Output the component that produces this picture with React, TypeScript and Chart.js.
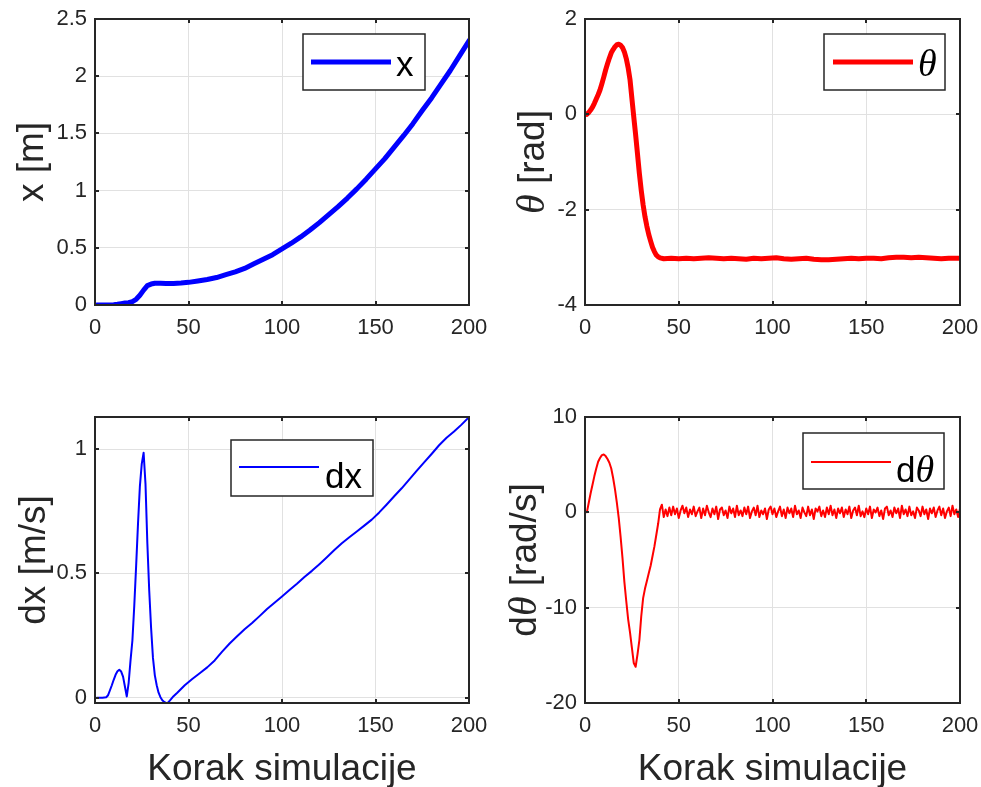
import React, { useEffect, useRef } from "react";
import { Chart, registerables } from "chart.js";

Chart.register(...registerables);

// ---------------- data ----------------
const STEP_TICKS = [0, 50, 100, 150, 200];

// x [m]
const POS_STEPS = [1, 5, 8, 10, 12, 14, 16, 18, 20, 22, 24, 26, 28, 30, 32, 35, 38, 42, 46, 50, 55, 60, 65, 70, 75, 80, 85, 90, 95, 100, 105, 110, 115, 120, 125, 130, 135, 140, 145, 150, 155, 160, 165, 170, 175, 180, 185, 190, 195, 200];
const POS_VALUES = [0, 0, 0.001, 0.003, 0.007, 0.012, 0.017, 0.02, 0.03, 0.05, 0.085, 0.13, 0.17, 0.183, 0.19, 0.19, 0.189, 0.189, 0.192, 0.198, 0.21, 0.223, 0.24, 0.265, 0.29, 0.32, 0.36, 0.4, 0.44, 0.49, 0.54, 0.595, 0.655, 0.72, 0.79, 0.86, 0.935, 1.015, 1.1, 1.19, 1.28, 1.38, 1.48, 1.585, 1.7, 1.81, 1.93, 2.05, 2.18, 2.31];
const POS_TICKS = [0, 0.5, 1, 1.5, 2, 2.5];

// theta [rad]
const THETA_STEPS = [
  1, 2, 3, 4, 5, 6, 7, 8, 9, 10,
  11, 12, 13, 14, 15, 16, 17, 18, 19, 20,
  21, 22, 23, 24, 25, 26, 27, 28, 29, 30,
  31, 32, 33, 34, 35, 36, 37, 38, 39, 40,
  42, 46, 50, 54, 58, 62, 66, 70, 74, 78,
  82, 86, 90, 94, 98, 102, 106, 110, 114, 118,
  122, 126, 130, 134, 138, 142, 146, 150, 154, 158,
  162, 166, 170, 174, 178, 182, 186, 190, 194, 198, 200,
];
const THETA_VALUES = [
  0.0, 0.04, 0.09, 0.15, 0.23, 0.32, 0.41, 0.51, 0.64, 0.78,
  0.93, 1.06, 1.18, 1.29, 1.36, 1.42, 1.46, 1.47, 1.45, 1.4,
  1.31, 1.17, 0.98, 0.73, 0.34, -0.05, -0.43, -0.83, -1.24, -1.6,
  -1.9, -2.15, -2.35, -2.52, -2.66, -2.79, -2.88, -2.95, -2.99, -3.01,
  -3.03, -3.02, -3.03, -3.02, -3.03, -3.02, -3.01, -3.02, -3.03, -3.02,
  -3.03, -3.04, -3.02, -3.03, -3.02, -3.01, -3.03, -3.04, -3.03, -3.02,
  -3.04, -3.05, -3.05, -3.04, -3.03, -3.02, -3.03, -3.02, -3.02, -3.03,
  -3.01, -3.0, -3.0, -3.01, -3.0, -3.01, -3.02, -3.03, -3.02, -3.02, -3.02,
];
const THETA_TICKS = [-4, -2, 0, 2];

// dx [m/s]
const VEL_STEPS = [
  1, 4, 6, 7, 8, 9, 10, 11, 12, 13,
  14, 15, 16, 17, 18, 19, 20, 21, 22, 23,
  24, 25, 26, 27, 28, 29, 30, 31, 32, 33,
  34, 35, 36, 37, 38, 39, 40, 41, 42,
  44, 48, 52, 56, 60, 64, 68, 72, 76, 80,
  84, 88, 92, 96, 100, 104, 108, 112, 116, 120,
  124, 128, 132, 136, 140, 144, 148, 152, 156, 160,
  164, 168, 172, 176, 180, 184, 188, 192, 196, 200,
];
const VEL_VALUES = [
  0, 0, 0.002, 0.01, 0.03, 0.05, 0.072, 0.092, 0.106, 0.112,
  0.105, 0.085, 0.045, 0.005, 0.06, 0.15, 0.23, 0.37, 0.53, 0.7,
  0.85, 0.94, 0.985, 0.86, 0.62, 0.43, 0.28, 0.16, 0.09, 0.05,
  0.02, 0.002, -0.01, -0.017, -0.021, -0.02, -0.012, -0.003, 0.006,
  0.02, 0.05, 0.075, 0.098, 0.122, 0.15, 0.185, 0.218, 0.247, 0.275,
  0.3, 0.328, 0.357, 0.382, 0.407, 0.433, 0.458, 0.485, 0.51, 0.537,
  0.565, 0.594, 0.621, 0.645, 0.668, 0.692, 0.716, 0.745, 0.777, 0.81,
  0.842, 0.877, 0.912, 0.946, 0.98, 1.015, 1.045, 1.07, 1.098, 1.128,
];
const VEL_TICKS = [0, 0.5, 1];

// dtheta [rad/s], one value per simulation step 1..200
const OMEGA_VALUES = [
  0.0, 1.0, 2.0, 2.9, 3.8, 4.6, 5.3, 5.7, 6.0, 6.07,
  5.9, 5.6, 5.2, 4.6, 3.6, 2.4, 1.0, -0.6, -2.6, -4.8,
  -7.3, -9.3, -11.2, -12.6, -14.2, -15.8, -16.2, -14.9, -13.4, -10.9,
  -9.0, -8.0, -7.2, -6.4, -5.6, -4.6, -3.6, -2.4, -1.2, 0.3,
  0.8, -0.5, 0.3, -0.4, 0.5, -0.3, 0.6, -0.2, 0.4, -0.6,
  0.2, 0.7, -0.1, 0.5, -0.5, 0.3, -0.2, 0.6, -0.4, 0.1,
  0.5, -0.6, 0.4, -0.3, 0.7, 0.0, -0.5, 0.4, -0.2, 0.6,
  -0.7, 0.3, 0.5, -0.3, 0.2, -0.6, 0.6, -0.1, 0.4, -0.5,
  0.7, -0.3, 0.2, -0.4, 0.5, -0.2, 0.6, -0.6, 0.1, 0.5,
  -0.3, 0.7, -0.5, 0.2, -0.2, 0.4, -0.7, 0.3, 0.6, -0.2,
  0.4, -0.5, 0.1, 0.6, -0.4, 0.3, -0.6, 0.5, -0.1, 0.4,
  -0.5, 0.7, -0.2, 0.2, -0.6, 0.5, 0.0, -0.4, 0.6, -0.3,
  0.3, -0.7, 0.4, 0.1, 0.6, -0.4, 0.2, -0.5, 0.5, -0.2,
  0.7, -0.3, 0.3, -0.6, 0.4, -0.1, 0.5, -0.5, 0.3, -0.2,
  0.6, -0.6, 0.2, 0.5, -0.3, 0.7, -0.4, 0.1, -0.5, 0.4,
  -0.2, 0.6, -0.6, 0.3, 0.0, 0.5, -0.4, 0.2, -0.7, 0.4,
  0.6, -0.3, 0.2, -0.5, 0.5, -0.1, 0.4, -0.6, 0.7, -0.2,
  0.3, -0.4, 0.6, -0.3, 0.1, -0.6, 0.5, 0.2, -0.4, 0.6,
  -0.2, 0.3, -0.7, 0.4, -0.1, 0.5, -0.5, 0.2, 0.6, -0.3,
  0.4, -0.6, 0.1, 0.5, -0.4, 0.7, -0.2, 0.3, -0.5, 0.4,
];
const OMEGA_STEPS = OMEGA_VALUES.map((_, i) => i + 1);
const OMEGA_TICKS = [-20, -10, 0, 10];

const X_LABEL = "Korak simulacije";

// ---------------- style ----------------
const AXIS_COLOR = "#262626";
const GRID_COLOR = "#e1e1e1";
const SANS = '"Liberation Sans", Arial, Helvetica, sans-serif';
const SERIF = '"Liberation Serif", "Times New Roman", serif';
const TICK_FONT_SIZE = 22;
const LABEL_FONT_SIZE = 37;
const LEGEND_FONT_SIZE = 35;
const ITALIC_SCALE = 1.08;
const TICK_LEN = 4;

type Seg = { t: string; italic?: boolean };

type PanelSpec = {
  canvas: { left: number; top: number; width: number; height: number };
  area: { left: number; top: number; right: number; bottom: number };
  steps: number[];
  values: number[];
  color: string;
  lineWidth: number;
  yMin: number;
  yMax: number;
  yTicks: number[];
  yTitle: Seg[];
  yTitleX: number;
  xTitle: boolean;
  legend: Seg[];
  legendBox: { x: number; y: number; w: number; h: number };
  legendLine: { x0: number; x1: number; y: number };
  legendText: { x: number; y: number };
};

function segFont(s: Seg, size: number) {
  return s.italic ? `italic ${Math.round(size * ITALIC_SCALE)}px ${SERIF}` : `${size}px ${SANS}`;
}

function drawSegs(ctx: CanvasRenderingContext2D, segs: Seg[], size: number, x: number, y: number, center: boolean) {
  const widths = segs.map((s) => {
    ctx.font = segFont(s, size);
    return ctx.measureText(s.t).width;
  });
  const total = widths.reduce((a, b) => a + b, 0);
  let cx = center ? x - total / 2 : x;
  segs.forEach((s, i) => {
    ctx.font = segFont(s, size);
    ctx.fillText(s.t, cx, y);
    cx += widths[i];
  });
}

function makePlugin(p: PanelSpec) {
  const ox = p.canvas.left;
  const oy = p.canvas.top;
  return {
    id: "matlabFrame",
    afterDatasetsDraw(chart: any) {
      const { ctx, chartArea: a, scales } = chart;
      ctx.save();
      ctx.strokeStyle = AXIS_COLOR;
      ctx.lineWidth = 2;
      ctx.beginPath();
      STEP_TICKS.forEach((v) => {
        const x = Math.round(scales.x.getPixelForValue(v));
        ctx.moveTo(x, a.bottom);
        ctx.lineTo(x, a.bottom - TICK_LEN);
        ctx.moveTo(x, a.top);
        ctx.lineTo(x, a.top + TICK_LEN);
      });
      p.yTicks.forEach((v) => {
        const y = Math.round(scales.y.getPixelForValue(v));
        ctx.moveTo(a.left, y);
        ctx.lineTo(a.left + TICK_LEN, y);
        ctx.moveTo(a.right, y);
        ctx.lineTo(a.right - TICK_LEN, y);
      });
      ctx.stroke();
      ctx.strokeRect(a.left, a.top, a.right - a.left, a.bottom - a.top);
      ctx.restore();
    },
    afterDraw(chart: any) {
      const { ctx, chartArea: a } = chart;
      ctx.save();
      // legend
      const b = p.legendBox;
      ctx.fillStyle = "#ffffff";
      ctx.fillRect(b.x - ox, b.y - oy, b.w, b.h);
      ctx.strokeStyle = AXIS_COLOR;
      ctx.lineWidth = 1.5;
      ctx.strokeRect(b.x - ox, b.y - oy, b.w, b.h);
      ctx.strokeStyle = p.color;
      ctx.lineWidth = p.lineWidth;
      ctx.beginPath();
      ctx.moveTo(p.legendLine.x0 - ox, p.legendLine.y - oy);
      ctx.lineTo(p.legendLine.x1 - ox, p.legendLine.y - oy);
      ctx.stroke();
      ctx.fillStyle = "#000000";
      ctx.textBaseline = "alphabetic";
      ctx.textAlign = "left";
      drawSegs(ctx, p.legend, LEGEND_FONT_SIZE, p.legendText.x - ox, p.legendText.y - oy, false);
      // y title
      ctx.fillStyle = AXIS_COLOR;
      ctx.save();
      ctx.translate(p.yTitleX - ox, (a.top + a.bottom) / 2);
      ctx.rotate(-Math.PI / 2);
      drawSegs(ctx, p.yTitle, LABEL_FONT_SIZE, 0, 0, true);
      ctx.restore();
      // x title
      if (p.xTitle) {
        drawSegs(ctx, [{ t: X_LABEL }], LABEL_FONT_SIZE, (a.left + a.right) / 2, 780 - oy, true);
      }
      ctx.restore();
    },
  };
}

function buildConfig(p: PanelSpec): any {
  const padL = p.area.left - p.canvas.left;
  const padT = p.area.top - p.canvas.top;
  const padR = p.canvas.left + p.canvas.width - p.area.right;
  const padB = p.canvas.top + p.canvas.height - p.area.bottom;
  const tickFont = { family: SANS, size: TICK_FONT_SIZE };
  const points = p.steps.map((s, i) => ({ x: s, y: p.values[i] }));
  return {
    type: "line",
    data: {
      datasets: [
        {
          data: points,
          borderColor: p.color,
          borderWidth: p.lineWidth,
          pointRadius: 0,
          tension: 0,
          fill: false,
          borderJoinStyle: "round",
          borderCapStyle: "round",
        },
      ],
    },
    options: {
      responsive: false,
      maintainAspectRatio: false,
      animation: false,
      events: [],
      layout: { padding: { top: padT, right: padR, left: 0, bottom: 0 } },
      plugins: { legend: { display: false }, tooltip: { enabled: false } },
      scales: {
        x: {
          type: "linear",
          min: 0,
          max: 200,
          afterBuildTicks: (s: any) => {
            s.ticks = STEP_TICKS.map((v) => ({ value: v }));
          },
          afterFit: (s: any) => {
            s.height = padB;
            s.paddingLeft = 0;
            s.paddingRight = 0;
          },
          grid: { color: GRID_COLOR, lineWidth: 1, drawTicks: false },
          border: { display: false },
          ticks: {
            padding: 10,
            font: tickFont,
            color: AXIS_COLOR,
            maxRotation: 0,
            autoSkip: false,
            callback: (v: any) => String(v),
          },
        },
        y: {
          type: "linear",
          min: p.yMin,
          max: p.yMax,
          afterBuildTicks: (s: any) => {
            s.ticks = p.yTicks.map((v) => ({ value: v }));
          },
          afterFit: (s: any) => {
            s.width = padL;
            s.paddingTop = 0;
            s.paddingBottom = 0;
          },
          grid: { color: GRID_COLOR, lineWidth: 1, drawTicks: false },
          border: { display: false },
          ticks: {
            padding: 8,
            font: tickFont,
            color: AXIS_COLOR,
            autoSkip: false,
            callback: (v: any) => String(v),
          },
        },
      },
    },
    plugins: [makePlugin(p)],
  };
}

const PANELS: PanelSpec[] = [
  {
    canvas: { left: 0, top: 0, width: 490, height: 393 },
    area: { left: 95, top: 19, right: 469, bottom: 305 },
    steps: POS_STEPS,
    values: POS_VALUES,
    color: "#0000ff",
    lineWidth: 5,
    yMin: 0,
    yMax: 2.5,
    yTicks: POS_TICKS,
    yTitle: [{ t: "x [m]" }],
    yTitleX: 43,
    xTitle: false,
    legend: [{ t: "x" }],
    legendBox: { x: 303, y: 34, w: 122, h: 56 },
    legendLine: { x0: 311, x1: 391, y: 62 },
    legendText: { x: 396, y: 76 },
  },
  {
    canvas: { left: 490, top: 0, width: 491, height: 393 },
    area: { left: 585, top: 19, right: 960, bottom: 305 },
    steps: THETA_STEPS,
    values: THETA_VALUES,
    color: "#ff0000",
    lineWidth: 5,
    yMin: -4,
    yMax: 2,
    yTicks: THETA_TICKS,
    yTitle: [{ t: "θ", italic: true }, { t: " [rad]" }],
    yTitleX: 544,
    xTitle: false,
    legend: [{ t: "θ", italic: true }],
    legendBox: { x: 824, y: 34, w: 121, h: 56 },
    legendLine: { x0: 833, x1: 913, y: 62 },
    legendText: { x: 918, y: 76 },
  },
  {
    canvas: { left: 0, top: 393, width: 490, height: 394 },
    area: { left: 95, top: 417, right: 469, bottom: 703 },
    steps: VEL_STEPS,
    values: VEL_VALUES,
    color: "#0000ff",
    lineWidth: 2,
    yMin: -0.0213,
    yMax: 1.1287,
    yTicks: VEL_TICKS,
    yTitle: [{ t: "dx [m/s]" }],
    yTitleX: 45,
    xTitle: true,
    legend: [{ t: "dx" }],
    legendBox: { x: 231, y: 440, w: 142, h: 56 },
    legendLine: { x0: 239, x1: 319, y: 467 },
    legendText: { x: 325, y: 488 },
  },
  {
    canvas: { left: 490, top: 393, width: 491, height: 394 },
    area: { left: 585, top: 417, right: 960, bottom: 703 },
    steps: OMEGA_STEPS,
    values: OMEGA_VALUES,
    color: "#ff0000",
    lineWidth: 2,
    yMin: -20,
    yMax: 10,
    yTicks: OMEGA_TICKS,
    yTitle: [{ t: "d" }, { t: "θ", italic: true }, { t: " [rad/s]" }],
    yTitleX: 536,
    xTitle: true,
    legend: [{ t: "d" }, { t: "θ", italic: true }],
    legendBox: { x: 803, y: 433, w: 141, h: 56 },
    legendLine: { x0: 811, x1: 891, y: 462 },
    legendText: { x: 896, y: 482 },
  },
];

function Panel({ spec }: { spec: PanelSpec }) {
  const ref = useRef<HTMLCanvasElement>(null);
  useEffect(() => {
    if (!ref.current) return;
    const chart = new Chart(ref.current, buildConfig(spec));
    return () => chart.destroy();
  }, [spec]);
  const c = spec.canvas;
  return (
    <canvas
      ref={ref}
      width={c.width}
      height={c.height}
      style={{ position: "absolute", left: c.left, top: c.top, width: c.width, height: c.height }}
    />
  );
}

export default function App() {
  return (
    <div style={{ position: "fixed", left: 0, top: 0, width: 981, height: 787, background: "#ffffff" }}>
      {PANELS.map((p, i) => (
        <Panel key={i} spec={p} />
      ))}
    </div>
  );
}
